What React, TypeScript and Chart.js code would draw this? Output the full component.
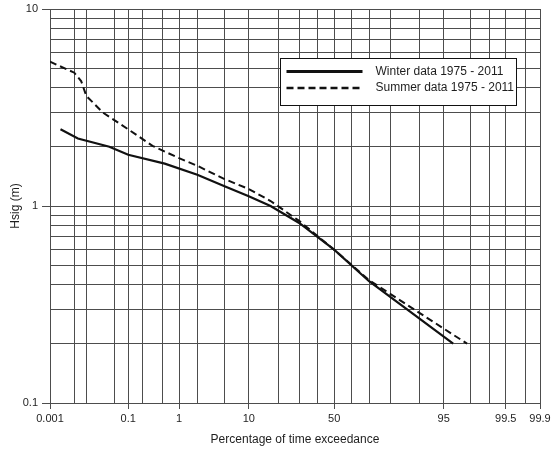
import React, { useEffect, useRef } from 'react';
import { Chart, Scale, registerables } from 'chart.js';

// ---------- data ----------
const WINTER_PCT = [0.002, 0.006, 0.037, 0.1, 0.55, 2, 5, 10, 17, 30, 50, 70, 96.3];
const WINTER_HSIG = [2.45, 2.2, 2.0, 1.82, 1.64, 1.44, 1.26, 1.12, 1.0, 0.82, 0.6, 0.415, 0.2];

const SUMMER_PCT = [0.001, 0.0048, 0.0073, 0.01, 0.026, 0.1, 0.32, 0.95, 2, 5, 10, 17, 30, 50, 70, 97.7];
const SUMMER_HSIG = [5.4, 4.75, 4.31, 3.62, 2.98, 2.45, 2.02, 1.76, 1.6, 1.37, 1.22, 1.06, 0.84, 0.6, 0.42, 0.2];

const SERIES_LABELS = ['Winter data 1975 - 2011', 'Summer data 1975 - 2011'];

const X_GRID = [0.001, 0.005, 0.01, 0.05, 0.1, 0.2, 0.5, 1, 2, 5, 10, 20, 30, 40, 50, 60, 70, 80, 90, 95, 98, 99, 99.5, 99.8, 99.9];
const X_LABELS = [0.001, 0.1, 1, 10, 50, 95, 99.5, 99.9];
const Y_GRID = [0.1, 0.2, 0.3, 0.4, 0.5, 0.6, 0.7, 0.8, 0.9, 1, 2, 3, 4, 5, 6, 7, 8, 9, 10];
const Y_LABELS = [0.1, 1, 10];

const X_TITLE = 'Percentage of time exceedance';
const Y_TITLE = 'Hsig (m)';

// ---------- normal probability helpers ----------
function probit(p: number): number {
  const a = [-3.969683028665376e1, 2.209460984245205e2, -2.759285104469687e2, 1.38357751867269e2, -3.066479806614716e1, 2.506628277459239];
  const b = [-5.447609879822406e1, 1.615858368580409e2, -1.556989798598866e2, 6.680131188771972e1, -1.328068155288572e1];
  const c = [-7.784894002430293e-3, -3.223964580411365e-1, -2.400758277161838, -2.549732539343734, 4.374664141464968, 2.938163982698783];
  const d = [7.784695709041462e-3, 3.224671290700398e-1, 2.445134137142996, 3.754408661907416];
  const pLow = 0.02425;
  const pHigh = 1 - pLow;
  if (p < pLow) {
    const q = Math.sqrt(-2 * Math.log(p));
    return (((((c[0] * q + c[1]) * q + c[2]) * q + c[3]) * q + c[4]) * q + c[5]) / ((((d[0] * q + d[1]) * q + d[2]) * q + d[3]) * q + 1);
  }
  if (p <= pHigh) {
    const q = p - 0.5;
    const r = q * q;
    return ((((((a[0] * r + a[1]) * r + a[2]) * r + a[3]) * r + a[4]) * r + a[5]) * q) / (((((b[0] * r + b[1]) * r + b[2]) * r + b[3]) * r + b[4]) * r + 1);
  }
  const q = Math.sqrt(-2 * Math.log(1 - p));
  return -(((((c[0] * q + c[1]) * q + c[2]) * q + c[3]) * q + c[4]) * q + c[5]) / ((((d[0] * q + d[1]) * q + d[2]) * q + d[3]) * q + 1);
}

function normCdf(z: number): number {
  const t = 1 / (1 + 0.2316419 * Math.abs(z));
  const dd = 0.3989423 * Math.exp((-z * z) / 2);
  const pr = dd * t * (0.3193815 + t * (-0.3565638 + t * (1.781478 + t * (-1.821256 + t * 1.330274))));
  return z > 0 ? 1 - pr : pr;
}

class ProbabilityScale extends Scale {
  static id = 'probability';
  static defaults = {};
  _zMin = 0;
  _zMax = 1;

  determineDataLimits() {
    const opts: any = this.options;
    this.min = opts.min ?? 0.001;
    this.max = opts.max ?? 99.9;
  }
  buildTicks() {
    return [];
  }
  configure() {
    super.configure();
    this._zMin = probit(this.min / 100);
    this._zMax = probit(this.max / 100);
  }
  getLabelForValue(v: number) {
    return String(v);
  }
  getPixelForValue(v: number) {
    const z = probit(v / 100);
    return this.getPixelForDecimal((z - this._zMin) / (this._zMax - this._zMin));
  }
  getValueForPixel(px: number) {
    const dec = this.getDecimalForPixel(px);
    return normCdf(this._zMin + dec * (this._zMax - this._zMin)) * 100;
  }
}

Chart.register(...registerables, ProbabilityScale as any);

const FONT = "'Liberation Sans', Arial, Helvetica, sans-serif";
const GRID = '#4d4d4d';
const TEXT = '#1e1e1e';
const LINE = '#111111';

const boxLegend = {
  id: 'boxLegend',
  afterDraw(chart: any) {
    const { ctx, chartArea } = chart;
    const bx = Math.round(chartArea.right - 260) + 0.5;
    const by = Math.round(chartArea.top + 49) + 0.5;
    const bw = 236;
    const bh = 47;
    ctx.save();
    ctx.fillStyle = '#ffffff';
    ctx.fillRect(bx, by, bw, bh);
    ctx.strokeStyle = '#111111';
    ctx.lineWidth = 1;
    ctx.setLineDash([]);
    ctx.strokeRect(bx, by, bw, bh);
    chart.data.datasets.forEach((ds: any, i: number) => {
      const y = by + 13 + i * 16.5;
      ctx.beginPath();
      ctx.setLineDash(ds.borderDash || []);
      ctx.strokeStyle = ds.borderColor;
      ctx.lineWidth = ds.borderWidth + 0.6;
      ctx.moveTo(bx + 6, y);
      ctx.lineTo(bx + 82, y);
      ctx.stroke();
      ctx.setLineDash([]);
      ctx.fillStyle = TEXT;
      ctx.font = `12px ${FONT}`;
      ctx.textBaseline = 'middle';
      ctx.textAlign = 'left';
      ctx.fillText(ds.label, bx + 95, y);
    });
    ctx.restore();
  },
};

export default function App() {
  const ref = useRef<HTMLCanvasElement | null>(null);

  useEffect(() => {
    if (!ref.current) return;
    const chart = new Chart(ref.current, {
      type: 'line',
      data: {
        datasets: [
          {
            label: SERIES_LABELS[0],
            data: WINTER_PCT.map((p, i) => ({ x: p, y: WINTER_HSIG[i] })),
            borderColor: LINE,
            borderWidth: 2.2,
            pointRadius: 0,
            tension: 0,
            fill: false,
          },
          {
            label: SERIES_LABELS[1],
            data: SUMMER_PCT.map((p, i) => ({ x: p, y: SUMMER_HSIG[i] })),
            borderColor: LINE,
            borderWidth: 2,
            borderDash: [7, 4],
            pointRadius: 0,
            tension: 0,
            fill: false,
          },
        ],
      },
      options: {
        animation: false,
        responsive: false,
        devicePixelRatio: 1,
        layout: { padding: { left: 0, top: 9, right: 17, bottom: 0 } },
        plugins: { legend: { display: false }, tooltip: { enabled: false } },
        scales: {
          x: {
            type: 'probability' as any,
            min: 0.001,
            max: 99.9,
            afterBuildTicks: (s: any) => {
              s.ticks = X_GRID.map((v) => ({ value: v }));
            },
            afterFit: (s: any) => {
              s.height = 54;
              s.paddingLeft = 0;
              s.paddingRight = 0;
            },
            grid: {
              color: GRID,
              lineWidth: 1,
              drawTicks: true,
              tickLength: 6,
              tickColor: (c: any) => (c.tick && X_LABELS.includes(c.tick.value) ? GRID : 'rgba(0,0,0,0)'),
            },
            border: { display: true, color: GRID, width: 1 },
            ticks: {
              autoSkip: false,
              maxRotation: 0,
              minRotation: 0,
              padding: 3,
              color: TEXT,
              font: { family: FONT, size: 11 },
              callback: (v: any) => (X_LABELS.includes(v) ? String(v) : ''),
            },
            title: {
              display: true,
              text: X_TITLE,
              color: TEXT,
              font: { family: FONT, size: 12 },
              padding: { top: 0, bottom: 10 },
            },
          } as any,
          y: {
            type: 'logarithmic',
            min: 0.1,
            max: 10,
            afterBuildTicks: (s: any) => {
              s.ticks = Y_GRID.map((v) => ({ value: v }));
            },
            afterFit: (s: any) => {
              s.width = 50;
              s.paddingTop = 0;
              s.paddingBottom = 0;
            },
            grid: {
              color: GRID,
              lineWidth: 1,
              drawTicks: true,
              tickLength: 8,
              tickColor: (c: any) => (c.tick && Y_LABELS.includes(c.tick.value) ? GRID : 'rgba(0,0,0,0)'),
            },
            border: { display: true, color: GRID, width: 1 },
            ticks: {
              autoSkip: false,
              padding: 4,
              color: TEXT,
              font: { family: FONT, size: 11 },
              callback: (v: any) => (Y_LABELS.includes(v) ? String(v) : ''),
            },
            title: {
              display: true,
              text: Y_TITLE,
              color: TEXT,
              font: { family: FONT, size: 12 },
              padding: { top: 8, bottom: 0 },
            },
          },
        },
      },
      plugins: [boxLegend],
    });
    return () => chart.destroy();
  }, []);

  return (
    <div style={{ position: 'fixed', left: 0, top: 0, width: 557, height: 457, background: '#fff' }}>
      <canvas ref={ref} width={557} height={457} style={{ display: 'block' }} />
    </div>
  );
}
